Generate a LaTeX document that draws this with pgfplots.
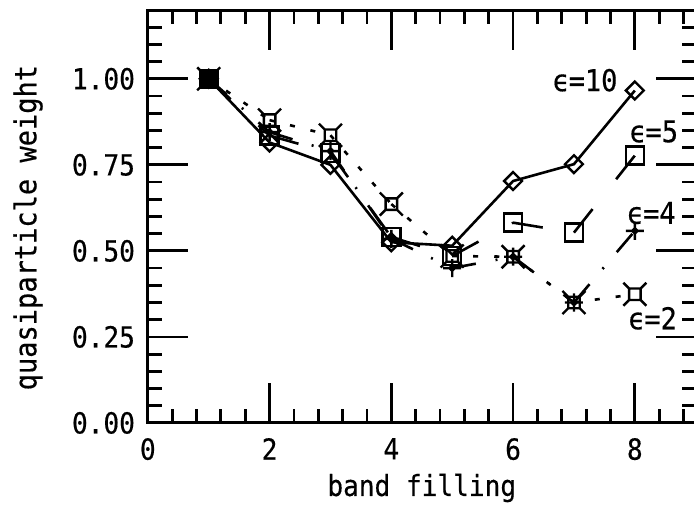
\documentclass[border=0pt]{standalone}
\usepackage{fontspec}
\setmainfont[FakeStretch=0.9, FakeBold=0.4]{DejaVu Sans Mono}
\usepackage{pgfplots}
\pgfplotsset{compat=1.18}

\pgfdeclareplotmark{sqspike}{%
  \pgfpathrectangle{\pgfqpoint{-0.5\pgfplotmarksize}{-0.5\pgfplotmarksize}}{\pgfqpoint{\pgfplotmarksize}{\pgfplotmarksize}}%
  \pgfpathmoveto{\pgfqpoint{0.5\pgfplotmarksize}{0.5\pgfplotmarksize}}\pgfpathlineto{\pgfqpoint{\pgfplotmarksize}{\pgfplotmarksize}}%
  \pgfpathmoveto{\pgfqpoint{-0.5\pgfplotmarksize}{0.5\pgfplotmarksize}}\pgfpathlineto{\pgfqpoint{-\pgfplotmarksize}{\pgfplotmarksize}}%
  \pgfpathmoveto{\pgfqpoint{0.5\pgfplotmarksize}{-0.5\pgfplotmarksize}}\pgfpathlineto{\pgfqpoint{\pgfplotmarksize}{-\pgfplotmarksize}}%
  \pgfpathmoveto{\pgfqpoint{-0.5\pgfplotmarksize}{-0.5\pgfplotmarksize}}\pgfpathlineto{\pgfqpoint{-\pgfplotmarksize}{-\pgfplotmarksize}}%
  \pgfusepathqstroke}
\pgfdeclareplotmark{plusdia}{%
  \pgfpathmoveto{\pgfqpoint{-\pgfplotmarksize}{0pt}}\pgfpathlineto{\pgfqpoint{\pgfplotmarksize}{0pt}}%
  \pgfpathmoveto{\pgfqpoint{0pt}{-\pgfplotmarksize}}\pgfpathlineto{\pgfqpoint{0pt}{\pgfplotmarksize}}%
  \pgfpathmoveto{\pgfqpoint{0.3\pgfplotmarksize}{0pt}}\pgfpathlineto{\pgfqpoint{0pt}{0.3\pgfplotmarksize}}%
  \pgfpathlineto{\pgfqpoint{-0.3\pgfplotmarksize}{0pt}}\pgfpathlineto{\pgfqpoint{0pt}{-0.3\pgfplotmarksize}}\pgfpathclose
  \pgfusepathqstroke}

\pgfplotstableread{
x y
1 1.000
2 0.815
3 0.750
4 0.525
5 0.515
6 0.703
7 0.752
8 0.966
}\epsten
\pgfplotstableread{
x y
1 1.000
2 0.835
3 0.785
4 0.540
5 0.485
6 0.582
7 0.553
8 0.777
}\epsfive
\pgfplotstableread{
x y
1 1.000
2 0.845
3 0.790
4 0.535
5 0.450
6 0.483
7 0.350
8 0.558
}\epsfour
\pgfplotstableread{
x y
1 1.000
2 0.880
3 0.836
4 0.636
5 0.485
6 0.483
7 0.350
8 0.374
}\epstwo

\begin{document}
\begin{tikzpicture}
\begin{axis}[
  at={(0,0)}, anchor=south west,
  scale only axis, width=547.3pt, height=412.5pt,
  xmin=0, xmax=9, ymin=0, ymax=1.2,
  axis line style={line width=3pt},
  every tick/.style={line width=2.8pt, black},
  tick align=inside,
  xtick={0,2,4,6,8}, ytick={0,0.25,0.5,0.75,1.0},
  minor xtick={0.4,0.8,...,8.8}, minor ytick={0.05,0.1,...,1.16},
  major tick length=40pt, minor tick length=14pt,
  xtick pos=both, ytick pos=both,
  /pgf/number format/assume math mode=true,
  tick label style={font=\fontsize{29pt}{29pt}\selectfont, inner sep=0pt},
  xticklabel style={anchor=north, yshift=-15pt},
  yticklabel style={anchor=east, xshift=-12.7pt, /pgf/number format/.cd, fixed, fixed zerofill, precision=2},
  xlabel={band filling},
  xlabel style={at={(axis description cs:0.5,0)}, anchor=center, yshift=-65pt, inner sep=0pt, font=\fontsize{29pt}{29pt}\selectfont},
  ylabel={quasiparticle weight},
  ylabel style={at={(axis description cs:-0.2187,0.473)}, anchor=center, inner sep=0pt, font=\fontsize{30pt}{30pt}\selectfont},
  clip=false,
]
% eps=10 solid, diamonds
\addplot[black, line width=2.6pt, mark=square, mark size=6.3pt, mark options={rotate=45, line width=2.4pt}] table[x=x,y=y] {\epsten};
% eps=5 long dashes, squares
\addplot[mesh, colormap={blk}{color(0)=(black) color(1)=(black)}, line width=2.6pt, dash pattern=on 30pt off 38pt] table[x=x,y=y] {\epsfive};
\addplot[only marks, black, mark=square, mark size=9pt, mark options={line width=2.4pt}] table[x=x,y=y] {\epsfive};
% eps=4 dash-dot, plus with diamond
\addplot[mesh, colormap={blk}{color(0)=(black) color(1)=(black)}, line width=2.6pt, dash pattern=on 24pt off 20pt on 2pt off 20pt] table[x=x,y=y] {\epsfour};
\addplot[only marks, black, mark=plusdia, mark size=9pt, mark options={line width=2.4pt}] table[x=x,y=y] {\epsfour};
% eps=2 short dashes, square with spikes
\addplot[mesh, colormap={blk}{color(0)=(black) color(1)=(black)}, line width=2.6pt, dash pattern=on 5pt off 16pt] table[x=x,y=y] {\epstwo};
\addplot[only marks, black, mark=sqspike, mark size=11.5pt, mark options={line width=2.4pt}] table[x=x,y=y] {\epstwo};
% overlapping markers at the first filling
\addplot[only marks, black, mark=square*, mark size=9.5pt] coordinates {(1,1.0)};

\node[inner sep=0pt, font=\fontsize{30pt}{30pt}\selectfont] at (axis cs:7.18,0.996) {ϵ=10};
\node[inner sep=0pt, font=\fontsize{30pt}{30pt}\selectfont] at (axis cs:8.31,0.847) {ϵ=5};
\node[inner sep=0pt, font=\fontsize{30pt}{30pt}\selectfont] at (axis cs:8.27,0.610) {ϵ=4};
\node[inner sep=0pt, font=\fontsize{30pt}{30pt}\selectfont] at (axis cs:8.29,0.304) {ϵ=2};
\end{axis}
\pgfresetboundingbox
\path[use as bounding box] (-147.7pt,-81.5pt) rectangle (545.6pt,422.5pt);
\end{tikzpicture}
\end{document}
